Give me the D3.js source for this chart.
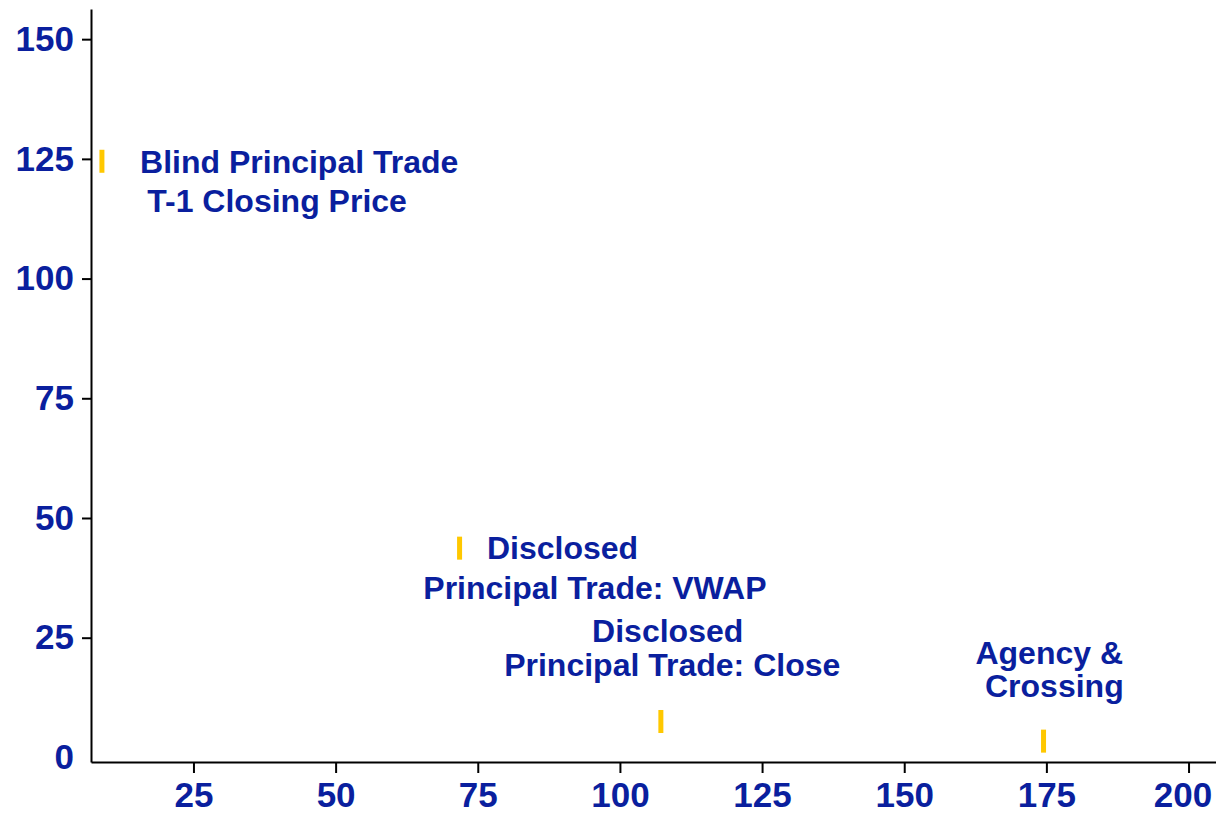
<!DOCTYPE html>
<html>
<head>
<meta charset="utf-8">
<script src="https://cdn.jsdelivr.net/npm/d3@7"></script>
<style>
  html, body { margin: 0; padding: 0; background: #fff; }
  svg { display: block; }
  text { font-family: "Liberation Sans", Arial, sans-serif; font-weight: bold; }
</style>
</head>
<body>
<svg id="chart" width="1216" height="814"></svg>
<script>
// ---- data ----
const pointNames = ["Blind Principal Trade T-1 Closing Price", "Disclosed Principal Trade: VWAP", "Disclosed Principal Trade: Close", "Agency & Crossing"];
const pointX = [8.9, 71.8, 107.2, 174.5];
const pointY = [124.5, 43.7, 7.5, 3.4];

const xTicks = [25, 50, 75, 100, 125, 150, 175, 200];
const yTicks = [0, 25, 50, 75, 100, 125, 150];

// annotation lines (text and anchor in data units)
const labelText = ["Blind Principal Trade", "T-1 Closing Price", "Disclosed", "Principal Trade: VWAP", "Disclosed", "Principal Trade: Close", "Agency &", "Crossing"];
const labelX = [43.6, 39.7, 89.9, 95.6, 108.4, 109.2, 175.5, 176.4];
const labelY = [122.0, 114.0, 41.4, 33.0, 24.0, 16.9, 19.5, 12.6];

// ---- chart ----
const svg = d3.select("#chart");
const textColor = "#0a1f9e";
const markerColor = "#ffc800";

const x = d3.scaleLinear().domain([6.98, 204.83]).range([91, 1216]);
const y = d3.scaleLinear().domain([-0.96, 156.3]).range([762, 9]);

// y axis
const gy = svg.append("g")
  .attr("transform", `translate(${x.range()[0]},0)`)
  .call(d3.axisLeft(y).tickValues(yTicks).tickFormat(d3.format("d")).tickSize(9).tickSizeOuter(0).tickPadding(8));
gy.select(".domain").attr("stroke", "#000").attr("stroke-width", 2);
gy.selectAll(".tick line").attr("stroke", "#000").attr("stroke-width", 2);
gy.selectAll(".tick").filter(d => d === 0).select("line").remove();
gy.selectAll(".tick text").attr("fill", textColor).style("font-size", "35px").style("font-weight", "bold");

// x axis
const gx = svg.append("g")
  .attr("transform", `translate(0,${y.range()[0]})`)
  .call(d3.axisBottom(x).tickValues(xTicks).tickFormat(d3.format("d")).tickSize(11).tickSizeOuter(0).tickPadding(9));
gx.select(".domain").attr("stroke", "#000").attr("stroke-width", 2);
gx.selectAll(".tick line").attr("stroke", "#000").attr("stroke-width", 2);
gx.selectAll(".tick text").attr("fill", textColor).style("font-size", "35px").style("font-weight", "bold");
gx.selectAll(".tick").filter(d => d === 200).select("text").attr("dx", -6);

// markers
const pts = pointX.map((v, i) => ({ name: pointNames[i], x: v, y: pointY[i] }));
svg.append("g").selectAll("rect").data(pts).join("rect")
  .attr("x", d => x(d.x) - 2.5)
  .attr("y", d => y(d.y) - 11.5)
  .attr("width", 5)
  .attr("height", 23)
  .attr("fill", markerColor);

// labels
const labels = labelText.map((t, i) => ({ t, x: labelX[i], y: labelY[i] }));
svg.append("g").selectAll("text").data(labels).join("text")
  .attr("x", d => x(d.x))
  .attr("y", d => y(d.y))
  .attr("text-anchor", "middle")
  .attr("fill", textColor)
  .style("font-size", "32px")
  .text(d => d.t);
</script>
</body>
</html>
